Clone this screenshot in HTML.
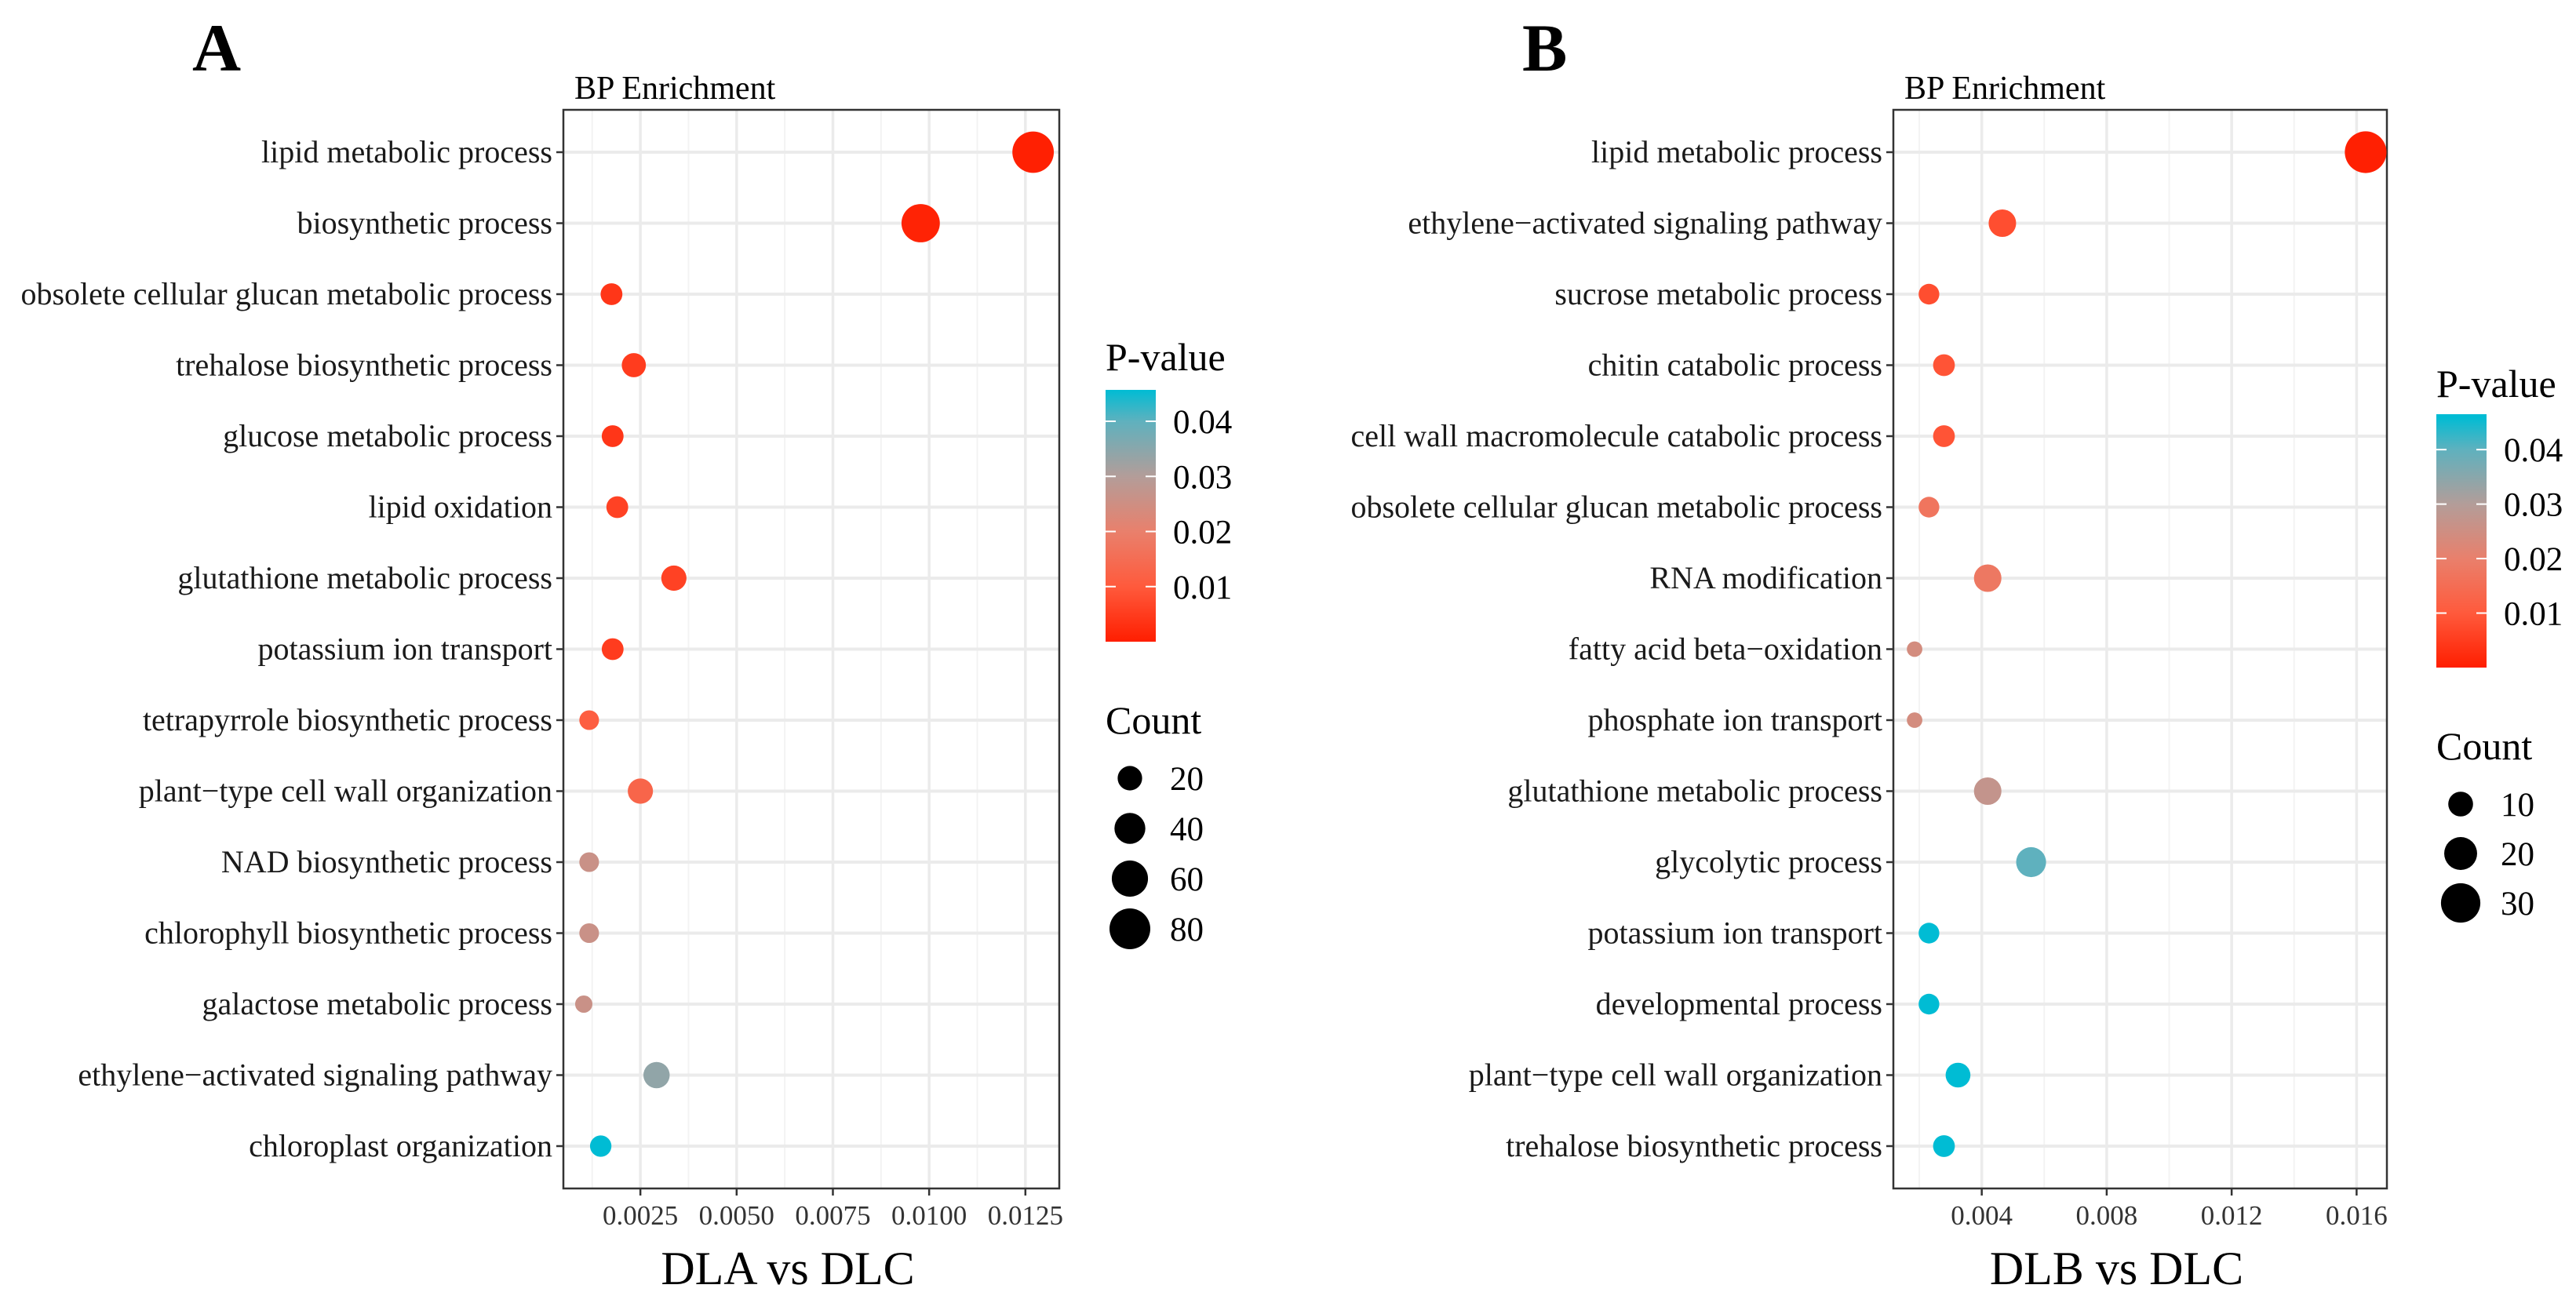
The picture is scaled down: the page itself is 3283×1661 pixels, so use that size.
<!DOCTYPE html>
<html><head><meta charset="utf-8"><style>
html,body{margin:0;padding:0;background:#fff;}
svg{display:block;font-family:"Liberation Serif",serif;}
</style></head><body>
<svg id="fig" width="3283" height="1661" viewBox="0 0 3283 1661" xmlns="http://www.w3.org/2000/svg"></svg>
<script>
// ---- Panel A data ----
const termsA = ["lipid metabolic process","biosynthetic process","obsolete cellular glucan metabolic process","trehalose biosynthetic process","glucose metabolic process","lipid oxidation","glutathione metabolic process","potassium ion transport","tetrapyrrole biosynthetic process","plant\u2212type cell wall organization","NAD biosynthetic process","chlorophyll biosynthetic process","galactose metabolic process","ethylene\u2212activated signaling pathway","chloroplast organization"];
const ratioA = [0.0127,0.00978,0.00175,0.00233,0.00178,0.0019,0.00337,0.00178,0.00117,0.0025,0.00117,0.00117,0.00103,0.00292,0.00147];
const pvalA = [0.0003,0.0008,0.004,0.005,0.004,0.006,0.006,0.005,0.011,0.013,0.026,0.026,0.026,0.034,0.046];
const countA = [83,69,13,19,13,13,22,13,8,22,8,8,3,25,12];
const xTicksA = [0.0025,0.005,0.0075,0.01,0.0125];
const xTickLabelsA = ["0.0025","0.0050","0.0075","0.0100","0.0125"];
const xMinorA = [0.00125,0.00375,0.00625,0.00875,0.01125];
const countLegendA = [20,40,60,80];
// ---- Panel B data ----
const termsB = ["lipid metabolic process","ethylene\u2212activated signaling pathway","sucrose metabolic process","chitin catabolic process","cell wall macromolecule catabolic process","obsolete cellular glucan metabolic process","RNA modification","fatty acid beta\u2212oxidation","phosphate ion transport","glutathione metabolic process","glycolytic process","potassium ion transport","developmental process","plant\u2212type cell wall organization","trehalose biosynthetic process"];
const ratioB = [0.01629,0.00466,0.00231,0.00279,0.00279,0.00231,0.00419,0.00185,0.00185,0.00419,0.00558,0.00231,0.00231,0.00324,0.00279];
const pvalB = [0.0003,0.008,0.008,0.009,0.009,0.017,0.018,0.024,0.024,0.027,0.040,0.046,0.046,0.046,0.046];
const countB = [34,13,6,7,7,6,13,2,2,13,16,6,6,10,7];
const xTicksB = [0.004,0.008,0.012,0.016];
const xTickLabelsB = ["0.004","0.008","0.012","0.016"];
const xMinorB = [0.002,0.006,0.010,0.014];
const countLegendB = [10,20,30];
const pTicks = [0.01,0.02,0.03,0.04];
const pTickLabels = ["0.01","0.02","0.03","0.04"];

const NS = "http://www.w3.org/2000/svg";
const svg = document.getElementById('fig');
function mk(tag, attrs, parent){ const e=document.createElementNS(NS,tag); for(const k in attrs) e.setAttribute(k,attrs[k]); (parent||svg).appendChild(e); return e; }

const cStops=[[0,[255,30,0]],[0.01,[255,90,60]],[0.02,[233,128,108]],[0.03,[179,157,153]],[0.04,[95,177,190]],[0.046,[0,188,212]]];
function pColor(p){
  if(p<=cStops[0][0]) return 'rgb('+cStops[0][1].join(',')+')';
  for(let i=1;i<cStops.length;i++){ if(p<=cStops[i][0]){ const a=cStops[i-1],b=cStops[i]; const t=(p-a[0])/(b[0]-a[0]); return 'rgb('+a[1].map((v,j)=>Math.round(v+(b[1][j]-v)*t)).join(',')+')'; } }
  return 'rgb('+cStops[cStops.length-1][1].join(',')+')';
}

function panel(cfg){
  const g = mk('g',{});
  
  
  const X = v => cfg.left + (v - cfg.xmin)/(cfg.xmax - cfg.xmin)*(cfg.right-cfg.left);
  const rowY = i => cfg.y0 + i*cfg.dy;
  const R = c => Math.sqrt(Math.max(cfg.ra + cfg.rb*c, 49));
  const L = mk('text',{x:cfg.letterX,y:90,'font-size':86,'font-weight':'bold'},g); L.textContent=cfg.letter;
   
  const T = mk('text',{x:cfg.left+14,y:126,'font-size':42},g); T.textContent='BP Enrichment';
   
  cfg.minor.forEach(v=>{ const l=mk('line',{x1:X(v),x2:X(v),y1:cfg.top,y2:cfg.bottom,stroke:'#F3F3F3','stroke-width':2},g);   });
  cfg.ticks.forEach(v=>{ const l=mk('line',{x1:X(v),x2:X(v),y1:cfg.top,y2:cfg.bottom,stroke:'#EBEBEB','stroke-width':3.5},g);   });
  cfg.terms.forEach((t,i)=>{ const l=mk('line',{x1:cfg.left,x2:cfg.right,y1:rowY(i),y2:rowY(i),stroke:'#EBEBEB','stroke-width':4},g);   });
  const b=mk('rect',{x:cfg.left,y:cfg.top,width:cfg.right-cfg.left,height:cfg.bottom-cfg.top,fill:'none',stroke:'#333','stroke-width':2.5},g);
   
  cfg.terms.forEach((t,i)=>{
    const tk=mk('line',{x1:cfg.left-9,x2:cfg.left,y1:rowY(i),y2:rowY(i),stroke:'#333','stroke-width':2.5},g);
     
    const tx=mk('text',{x:cfg.left-14,y:rowY(i)+13,'font-size':40,'text-anchor':'end',fill:'#1a1a1a'},g); tx.textContent=t;
     
  });
  cfg.ticks.forEach((v,i)=>{
    const tk=mk('line',{x1:X(v),x2:X(v),y1:cfg.bottom,y2:cfg.bottom+9,stroke:'#333','stroke-width':2.5},g);
     
    const tx=mk('text',{x:X(v),y:cfg.bottom+46,'font-size':35,'text-anchor':'middle',fill:'#333'},g); tx.textContent=cfg.tickLabels[i];
     
  });
  const xt=mk('text',{x:(cfg.left+cfg.right)/2-30,y:1637,'font-size':60,'text-anchor':'middle'},g); xt.textContent=cfg.xTitle;
   
  cfg.terms.forEach((t,i)=>{
    const c=mk('circle',{cx:X(cfg.ratio[i]),cy:rowY(i),r:R(cfg.count[i]),fill:pColor(cfg.pval[i])},g);
     
  });
  const gid='grad'+cfg.letter;
  const defs=mk('defs',{},g);
  const lg=mk('linearGradient',{id:gid,x1:0,y1:1,x2:0,y2:0},defs);
  cStops.forEach(s=>{ mk('stop',{offset:Math.min(1,s[0]/cfg.pTop),'stop-color':'rgb('+s[1].join(',')+')'},lg); });
  const pt=mk('text',{x:cfg.legX,y:cfg.pTitleY,'font-size':50},g); pt.textContent='P-value';
   
  const cb=mk('rect',{x:cfg.legX,y:cfg.cbTop,width:64,height:cfg.cbBot-cfg.cbTop,fill:'url(#'+gid+')'},g);
   
  const PY = p => cfg.cbBot - p/cfg.pTop*(cfg.cbBot-cfg.cbTop);
  pTicks.forEach((p,i)=>{
    mk('line',{x1:cfg.legX,x2:cfg.legX+13,y1:PY(p),y2:PY(p),stroke:'#fff','stroke-width':2},g);
    mk('line',{x1:cfg.legX+51,x2:cfg.legX+64,y1:PY(p),y2:PY(p),stroke:'#fff','stroke-width':2},g);
    const tx=mk('text',{x:cfg.legX+86,y:PY(p)+15,'font-size':43},g); tx.textContent=pTickLabels[i];
     
  });
  const ct=mk('text',{x:cfg.legX,y:cfg.countTitleY,'font-size':50},g); ct.textContent='Count';
   
  cfg.countLeg.forEach((c,i)=>{
    const y=cfg.countY0+i*cfg.countDy;
    const d=mk('circle',{cx:cfg.legX+31,cy:y,r:R(c),fill:'#000'},g);
     
    const tx=mk('text',{x:cfg.legX+82,y:y+15,'font-size':43},g); tx.textContent=String(c);
     
  });
}

panel({name:'panel-a',letter:'A',letterX:245,left:718,right:1350,top:140,bottom:1515,
  xmin:0.0005,xmax:0.01338,y0:194,dy:90.5,terms:termsA,ratio:ratioA,pval:pvalA,count:countA,
  ticks:xTicksA,tickLabels:xTickLabelsA,minor:xMinorA,xTitle:'DLA vs DLC',ra:100,rb:7.2,
  legX:1409,pTitleY:472,cbTop:497,cbBot:818,pTop:0.0457,countTitleY:935,countY0:992,countDy:64,countLeg:countLegendA});
panel({name:'panel-b',letter:'B',letterX:1940,left:2413,right:3042,top:140,bottom:1515,
  xmin:0.00117,xmax:0.01697,y0:194,dy:90.5,terms:termsB,ratio:ratioB,pval:pvalB,count:countB,
  ticks:xTicksB,tickLabels:xTickLabelsB,minor:xMinorB,xTitle:'DLB vs DLC',ra:60,rb:19,
  legX:3105,pTitleY:506,cbTop:528,cbBot:851,pTop:0.0465,countTitleY:968,countY0:1025,countDy:63,countLeg:countLegendB});
</script>
</body></html>
